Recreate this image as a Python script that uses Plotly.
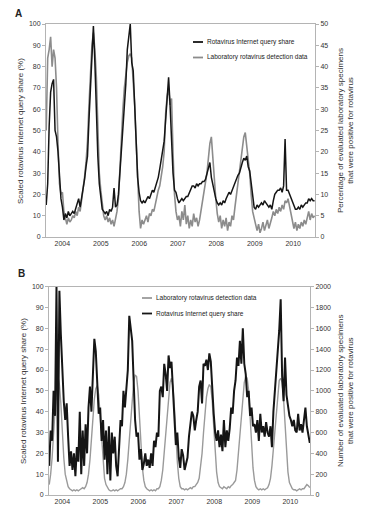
import pandas as pd
import plotly.graph_objects as go

# ---------------- data ----------------
# Panel A: scaled internet query share (%) and lab % positive, biweekly
a_query = [
    15, 25, 52, 68, 72, 74, 50, 47, 40, 28,
    18, 14, 8, 11, 9, 12, 10, 11, 12, 11,
    13, 15, 18, 14, 18, 22, 27, 33, 38, 55,
    68, 85, 99, 82, 57, 38, 25, 18, 13, 12,
    11, 12, 10, 13, 12, 14, 23, 14, 15, 20,
    30, 40, 52, 60, 72, 88, 93, 100, 82, 78,
    62, 40, 28, 21, 17, 16, 17, 16, 18, 19,
    18, 20, 22, 21, 23, 26, 28, 32, 36, 40,
    45, 55, 65, 75, 62, 45, 30, 22, 21, 18,
    16, 17, 18, 17, 18, 19, 19, 21, 22, 24,
    24, 23, 25, 24, 25, 25, 26, 26, 27, 30,
    32, 35, 28, 24, 20, 18, 16, 15, 16, 15,
    17, 16, 18, 20, 21, 20, 22, 23, 25, 27,
    29, 30, 33, 35, 37, 36, 38, 33, 31, 25,
    19, 14, 13, 15, 14, 15, 16, 15, 17, 16,
    15, 14, 15, 13, 17, 20, 21, 22, 22, 23,
    21, 24, 46, 22, 22, 20, 19, 16, 14, 13,
    13, 14, 13, 15, 14, 15, 16, 16, 18, 17,
    18, 17, 17,
]
a_lab_pct = [
    25, 42, 44, 47, 40, 44, 42, 35, 22, 12.5,
    10, 10.5, 6, 4, 3, 4.5, 3.5, 4, 5, 4.5,
    6, 5, 7, 6, 8.5, 11, 14, 17.5, 22.5, 31,
    39, 45, 48, 44, 37.5, 26, 15, 11, 8, 5,
    4, 5, 3.5, 4.5, 3, 4, 2.5, 4, 6, 9,
    16.5, 22.5, 30, 35, 39, 41, 42.5, 43, 42, 37.5,
    31, 22.5, 12.5, 6, 2, 4, 3, 4, 5, 3.5,
    5.5, 5, 6.5, 6, 8, 9, 11, 12, 14, 16.5,
    20, 29, 33, 35, 31, 32.5, 20, 10, 6, 4,
    5, 2.5, 6, 4, 7.5, 3, 5, 2, 4, 2.5,
    5.5, 3.5, 4.5, 2.5, 4, 6, 8, 10, 13, 15,
    18.5, 22, 23.5, 18, 14, 9, 5.5, 3.5, 5, 2,
    4, 2.5, 4.5, 1.5, 3.5, 2.5, 5, 4, 7, 10,
    12.5, 15, 18.5, 21, 23.5, 24.5, 21.5, 18.5, 15, 10,
    6, 4.5, 2.5, 1.5, 3, 1, 2, 3.5, 1.5, 2.5,
    4, 2, 3, 4.5, 6, 5, 6.5, 5.5, 7, 6,
    7.5, 6.5, 8.5, 8, 9, 7, 5, 3, 2, 3.5,
    1.5, 3, 2, 3.5, 2.5, 4, 3, 4.5, 6, 4,
    5.5, 4.5, 5,
]

# Panel B: scaled internet query share (%) and lab positive counts, biweekly
b_query = [
    14, 31, 26, 50, 38, 100, 16, 98, 77, 58,
    45, 36, 44, 28, 14, 21, 12, 20, 9, 23,
    16, 40, 10, 31, 14, 34, 20, 42, 52, 40,
    63, 75, 69, 52, 39, 42, 26, 36, 17, 31,
    10, 33, 7, 30, 20, 28, 14, 9, 23, 36,
    33, 50, 42, 53, 60, 86, 79, 74, 55, 36,
    28, 30, 17, 22, 12, 15, 20, 14, 17, 13,
    20, 14, 26, 23, 30, 28, 50, 52, 47, 63,
    58, 50, 67, 61, 64, 48, 37, 24, 30, 18,
    13, 22, 19, 12, 15, 18, 28, 36, 40, 38,
    31, 36, 40, 52, 55, 44, 63, 62, 65, 60,
    68, 64, 50, 39, 30, 26, 31, 23, 29, 21,
    36, 23, 31, 26, 32, 42, 39, 50, 55, 66,
    62, 74, 63, 80, 63, 58, 47, 50, 38, 42,
    33, 34, 30, 36, 26, 39, 30, 33, 28, 35,
    30, 28, 33, 23, 40, 50, 55, 66, 79, 94,
    57, 45, 66, 48, 42, 38, 36, 33, 36, 31,
    30, 39, 31, 34, 30, 36, 42, 33, 28, 25,
]
b_lab_count = [
    100, 200, 360, 600, 840, 1040, 1140, 1060, 880, 600,
    360, 200, 120, 80, 60, 50, 40, 50, 40, 50,
    40, 50, 60, 70, 60, 80, 120, 200, 340, 540,
    760, 920, 1020, 1050, 960, 760, 500, 280, 160, 100,
    70, 50, 40, 40, 50, 40, 50, 40, 50, 60,
    60, 80, 120, 200, 340, 540, 760, 940, 1080, 1150,
    1140, 1000, 760, 480, 260, 140, 80, 60, 50, 40,
    50, 40, 50, 40, 60, 60, 80, 140, 240, 400,
    600, 800, 960, 1080, 1120, 1040, 840, 560, 320, 160,
    80, 60, 60, 50, 60, 50, 60, 70, 60, 80,
    80, 100, 120, 160, 260, 400, 600, 800, 940, 1020,
    1060, 1040, 900, 660, 400, 220, 120, 80, 70, 60,
    80, 70, 60, 80, 70, 90, 100, 120, 140, 240,
    400, 600, 800, 960, 1080, 1140, 1120, 1000, 760, 480,
    260, 140, 80, 60, 50, 60, 50, 60, 50, 60,
    70, 100, 160, 280, 440, 640, 840, 1000, 1100, 1120,
    1080, 920, 680, 420, 220, 120, 80, 60, 50, 50,
    40, 50, 60, 50, 60, 60, 80, 100, 90, 70,
]

year_ticks = ["2004-01-01", "2005-01-01", "2006-01-01", "2007-01-01",
              "2008-01-01", "2009-01-01", "2010-01-01"]
year_labels = ["2004", "2005", "2006", "2007", "2008", "2009", "2010"]

a_dates = pd.date_range("2003-08-01", periods=len(a_query), freq="14D")
b_dates = pd.date_range("2003-08-28", periods=len(b_query), freq="14D")

# ---------------- layout helpers ----------------
W, H = 366, 517
FONT = "Liberation Sans"
BLACK = "#151515"
GRAY_A = "#8c8c8c"
GRAY_B = "#9a9a9a"
AXC = "#b4b4b4"
TXT = "#333333"


def fx(px):
    return px / W


def fy(py):
    return 1 - py / H


fig = go.Figure()

# Panel A (gray on base axis, black on overlay axis so black is on top)
fig.add_trace(go.Scatter(x=a_dates, y=a_lab_pct, mode="lines",
                         line=dict(color=GRAY_A, width=1.6),
                         xaxis="x", yaxis="y", showlegend=False,
                         name="Laboratory rotavirus detection data"))
fig.add_trace(go.Scatter(x=a_dates, y=a_query, mode="lines",
                         line=dict(color=BLACK, width=1.5),
                         xaxis="x", yaxis="y2", showlegend=False,
                         name="Rotavirus Internet query share"))
# Panel B
fig.add_trace(go.Scatter(x=b_dates, y=b_lab_count, mode="lines",
                         line=dict(color=GRAY_B, width=1.4),
                         xaxis="x2", yaxis="y3", showlegend=False,
                         name="Laboratory rotavirus detection data"))
fig.add_trace(go.Scatter(x=b_dates, y=b_query, mode="lines",
                         line=dict(color=BLACK, width=2),
                         xaxis="x2", yaxis="y4", showlegend=False,
                         name="Rotavirus Internet query share"))

tickfont = dict(family=FONT, size=7, color=TXT)

xcommon = dict(type="date", tickvals=year_ticks, ticktext=year_labels,
               showgrid=False, zeroline=False, showline=True, mirror=True,
               linecolor=AXC, linewidth=1, ticks="", tickfont=tickfont,
               automargin=False)
ycommon = dict(showgrid=False, zeroline=False, ticks="outside", ticklen=3,
               tickcolor=AXC, tickfont=tickfont, automargin=False)

fig.update_layout(
    template="none",
    width=W, height=H,
    margin=dict(l=0, r=0, t=0, b=0, pad=0),
    paper_bgcolor="white", plot_bgcolor="white",
    font=dict(family=FONT, color=TXT),
    xaxis=dict(domain=[fx(46), fx(315)], anchor="y",
               range=["2003-07-30", "2010-07-27"], **xcommon),
    yaxis=dict(domain=[fy(237), fy(24)], anchor="x", side="right",
               range=[0, 50], dtick=5, showline=True, mirror=True,
               linecolor=AXC, **ycommon),
    yaxis2=dict(overlaying="y", anchor="x", side="left",
                range=[0, 100], dtick=10, showline=False, **ycommon),
    xaxis2=dict(domain=[fx(49), fx(310)], anchor="y3",
                range=["2003-08-26", "2010-07-10"], **xcommon),
    yaxis3=dict(domain=[fy(495), fy(286.7)], anchor="x2", side="right",
                range=[0, 2000], dtick=200, showline=True, mirror=True,
                linecolor=AXC, **ycommon),
    yaxis4=dict(overlaying="y3", anchor="x2", side="left",
                range=[0, 100], dtick=10, showline=False, **ycommon),
)

ann = []
shapes = []


def text(px, py, s, size=8, angle=0, xanchor="center", bold=False, color=TXT):
    ann.append(dict(x=fx(px), y=fy(py), xref="paper", yref="paper",
                    text=("<b>%s</b>" % s) if bold else s, showarrow=False,
                    textangle=angle, xanchor=xanchor, yanchor="middle",
                    font=dict(family=FONT, size=size, color=color)))


def legend_line(x0, x1, py, color, width):
    shapes.append(dict(type="line", xref="paper", yref="paper",
                       x0=fx(x0), x1=fx(x1), y0=fy(py), y1=fy(py),
                       line=dict(color=color, width=width)))


# panel letters
text(18, 13, "A", size=10, bold=True, color="#222")
text(21, 273, "B", size=10, bold=True, color="#222")

# axis titles
text(20, 131, "Scaled rotavirus Internet query share (%)", size=8, angle=-90)
text(345, 131, "Percentage of evaluated laboratory specimens<br>that were positive for rotavirus",
     size=8, angle=-90)
text(23, 391, "Scaled rotavirus Internet query share (%)", size=8, angle=-90)
text(345, 391, "Number of evaluated laboratory specimens<br>that were positive for rotavirus",
     size=8, angle=-90)

# legend A
legend_line(193, 203, 42, BLACK, 1.8)
text(205, 42, "Rotavirus Internet query share", size=6.5, xanchor="left", color="#222")
legend_line(193, 203, 57.5, GRAY_A, 1.8)
text(205, 57.5, "Laboratory rotavirus detection data", size=6.5, xanchor="left", color="#222")

# legend B
legend_line(142, 152, 298, GRAY_B, 1.8)
text(154, 298, "Laboratory rotavirus detection data", size=6.5, xanchor="left", color="#222")
legend_line(142, 152, 313.5, BLACK, 1.8)
text(154, 313.5, "Rotavirus Internet query share", size=6.5, xanchor="left", color="#222")

fig.update_layout(annotations=ann, shapes=shapes)

fig.write_html(
    "out.html",
    config={"displayModeBar": False},
    post_script="document.body.style.margin='0';document.body.style.overflow='hidden';",
)
